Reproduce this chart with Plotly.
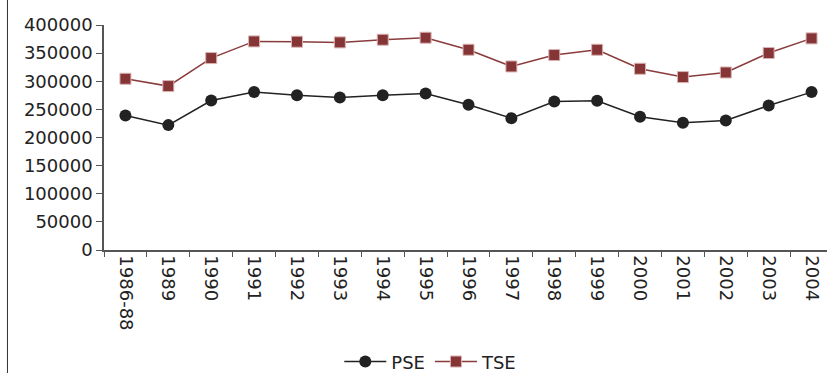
import plotly.graph_objects as go

# Periods on the horizontal axis
years = ["1986-88", "1989", "1990", "1991", "1992", "1993", "1994", "1995",
         "1996", "1997", "1998", "1999", "2000", "2001", "2002", "2003", "2004"]

# Producer support estimate
pse = [239000, 222000, 265800, 280700, 275300, 271100, 275300, 278300,
       258100, 234400, 264000, 265200, 236800, 226100, 230200, 256900, 280700]

# Total support estimate
tse = [304400, 291400, 341200, 370800, 370300, 369100, 373800, 377400,
       356000, 326300, 346600, 356000, 322200, 307400, 315600, 350200, 376200]

y_ticks = list(range(0, 400001, 50000))

FONT = "DejaVu Sans"
TEXT = "#222222"

fig = go.Figure()
fig.add_trace(go.Scatter(
    x=years, y=pse, name="PSE", mode="lines+markers",
    line=dict(color="#222222", width=1.5),
    marker=dict(symbol="circle", size=12, color="#222222",
                line=dict(color="#222222", width=0)),
))
fig.add_trace(go.Scatter(
    x=years, y=tse, name="TSE", mode="lines+markers",
    line=dict(color="#8a3b3c", width=1.5),
    marker=dict(symbol="square", size=11, color="#863536",
                line=dict(color="#d9b3b3", width=1)),
))

# Left edge of the chart frame
fig.add_shape(type="line", xref="paper", yref="paper",
              x0=-0.1335, x1=-0.1335, y0=-0.6, y1=1.2,
              line=dict(color="#333333", width=1))

fig.update_layout(
    width=827, height=373,
    margin=dict(l=104, r=0, t=25, b=123, autoexpand=False),
    paper_bgcolor="white", plot_bgcolor="white",
    font=dict(family=FONT, size=18, color=TEXT),
    showlegend=True,
    legend=dict(orientation="h", x=0.452, xanchor="center",
                y=-0.497, yanchor="middle",
                font=dict(family=FONT, size=18, color=TEXT),
                itemwidth=42, tracegroupgap=0),
    xaxis=dict(
        type="category", range=[-0.5, 16.36], automargin=False,
        tickmode="array", tickvals=years, ticktext=years,
        tickangle=90, tickson="boundaries",
        ticks="outside", ticklen=5, tickcolor="#555555",
        showline=True, linecolor="#555555", linewidth=1.5,
        showgrid=False, zeroline=False,
        tickfont=dict(family=FONT, size=18, color=TEXT),
    ),
    yaxis=dict(
        range=[0, 400000], tickmode="array", tickvals=y_ticks,
        ticktext=[str(v) for v in y_ticks], automargin=False,
        ticks="outside", ticklen=6, tickcolor="#555555",
        showline=True, linecolor="#555555", linewidth=1.5,
        showgrid=False, zeroline=False,
        tickfont=dict(family=FONT, size=18, color=TEXT),
    ),
)

fig.write_html("out.html")
